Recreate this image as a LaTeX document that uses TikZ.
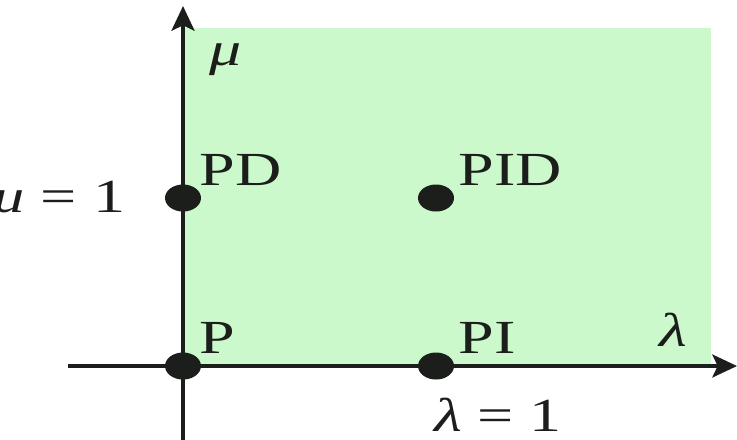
\documentclass[tikz,border=0pt]{standalone}
\usepackage{fontspec}
\setmainfont{Liberation Serif}
\usetikzlibrary{arrows.meta,shapes.geometric}
\definecolor{regiongreen}{RGB}{204,249,204}
\definecolor{inkblack}{RGB}{28,30,28}
\begin{document}
\begin{tikzpicture}[x=0.01cm,y=-0.01cm,
  axis/.style={draw=inkblack,line width=1.15pt,-{Stealth[length=7pt,width=6.5pt,inset=1.5pt]}},
  dot/.style={ellipse,fill=inkblack,minimum width=0.36cm,minimum height=0.27cm,inner sep=0pt},
  lbl/.style={font=\fontsize{13.5}{15}\selectfont,text=inkblack,inner sep=0pt,xscale=1.35,transform shape}]
\useasboundingbox (0,0) rectangle (737,439);
\fill[regiongreen] (183,28) rectangle (711,366);
\coordinate (xs) at (68,366);
\coordinate (xe) at (737,366);
\coordinate (ys) at (183,445);
\coordinate (ye) at (183,6);
\draw[axis] (xs) -- (xe);
\draw[axis] (ys) -- (ye);
\node[dot] (P) at (183,366) {};
\node[dot] (PI) at (436,366) {};
\node[dot] (PD) at (183,198) {};
\node[dot] (PID) at (436,198) {};
\node[lbl,anchor=base west] (lP) at (199,353) {P};
\node[lbl,anchor=base west] (lPI) at (458,353) {PI};
\node[lbl,anchor=base west] (lPD) at (199,185) {PD};
\node[lbl,anchor=base west] (lPID) at (458,185) {PID};
\node[lbl] (lam) at (673,330) {\itshape λ};
\node[lbl] (mu) at (226,60) {\itshape μ};
\node[lbl,anchor=base] (lam1) at (498,431) {{\itshape λ} = 1};
\node[lbl,anchor=base east] (mu1) at (126,212) {{\itshape μ} = 1};
\end{tikzpicture}
\end{document}
